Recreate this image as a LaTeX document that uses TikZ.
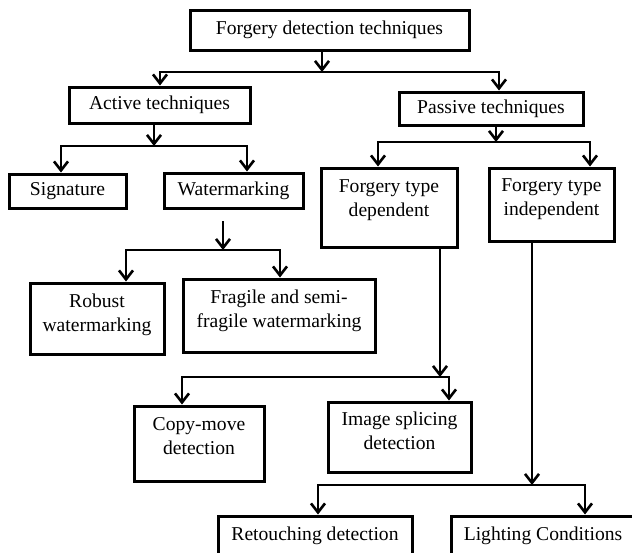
\documentclass[tikz,border=0pt]{standalone}
\usepackage{fontspec}
\setmainfont{Liberation Serif}
\usetikzlibrary{arrows.meta}
\newcommand{\twolines}[3][5pt]{\raisebox{#1}[\height][\depth]{\begin{tabular}{@{}c@{}}#2\\#3\end{tabular}}}
\begin{document}
\begin{tikzpicture}[x=1pt, y=-1pt,
    box/.style={draw, line width=3pt, inner sep=0pt, font=\fontsize{19.6pt}{24pt}\selectfont},
    link/.style={line width=2.6pt},
    arr/.style={link, -{Straight Barb[length=9pt,width=14pt,line width=2.6pt]}}]
  \clip (0,0) rectangle (632,552);
  % boxes
  \node[box, minimum width=279, minimum height=40] (title) at (329.5,30) {Forgery detection techniques};
  \node[box, minimum width=181, minimum height=36] (active) at (159.5,105) {Active techniques};
  \node[box, minimum width=184, minimum height=33] (passive) at (491,108.5) {Passive techniques};
  \node[box, minimum width=117, minimum height=34] (signature) at (67.5,191) {Signature};
  \node[box, minimum width=139, minimum height=35] (watermarking) at (233.5,190.5) {Watermarking};
  \node[box, minimum width=136, minimum height=79] (dependent) at (389,207.5) {\twolines[8pt]{Forgery type}{dependent}};
  \node[box, minimum width=125, minimum height=73] (independent) at (551.5,204.5) {\twolines[6pt]{Forgery type}{independent}};
  \node[box, minimum width=134, minimum height=71] (robust) at (97,318.5) {\twolines[4pt]{Robust}{watermarking}};
  \node[box, minimum width=192, minimum height=73] (fragile) at (279,315.5) {\twolines{Fragile and semi-}{fragile watermarking}};
  \node[box, minimum width=130, minimum height=75] (copymove) at (199,443.5) {\twolines[6pt]{Copy-move}{detection}};
  \node[box, minimum width=143, minimum height=70] (splicing) at (399.5,437) {\twolines[4pt]{Image splicing}{detection}};
  \node[box, minimum width=194, minimum height=40] (retouching) at (315,536) {Retouching detection};
  \node[box, minimum width=196, minimum height=40] (lighting) at (549,536) {\hspace*{-12pt}Lighting Conditions};
  % junctions
  \coordinate (t) at (322,72);  \coordinate (t1) at (160,72);  \coordinate (t2) at (499,72);
  \coordinate (a) at (154,146); \coordinate (a1) at (61,146);  \coordinate (a2) at (247,146);
  \coordinate (p) at (496,142); \coordinate (p1) at (378,142); \coordinate (p2) at (590,142);
  \coordinate (w0) at (223,221);
  \coordinate (w) at (223,250); \coordinate (w1) at (126,250); \coordinate (w2) at (280,250);
  \coordinate (d) at (440,377); \coordinate (d1) at (182,377); \coordinate (d2) at (449,377);
  \coordinate (i) at (532,485); \coordinate (i1) at (318,485); \coordinate (i2) at (585,485);
  % arrows
  \draw[arr] (title.south -| t) -- (t);
  \draw[arr] (t2) -- (t1) -- (t1 |- active.north);
  \draw[arr] (t1) -- (t2) -- (t2 |- passive.north);
  \draw[arr] (active.south -| a) -- (a);
  \draw[arr] (a2) -- (a1) -- (a1 |- signature.north);
  \draw[arr] (a1) -- (a2) -- (a2 |- watermarking.north);
  \draw[arr] (passive.south -| p) -- (p);
  \draw[arr] (p2) -- (p1) -- (p1 |- dependent.north);
  \draw[arr] (p1) -- (p2) -- (p2 |- independent.north);
  \draw[arr] (w0) -- (w);
  \draw[arr] (w2) -- (w1) -- (w1 |- robust.north);
  \draw[arr] (w1) -- (w2) -- (w2 |- fragile.north);
  \draw[arr] (dependent.south -| d) -- (d);
  \draw[arr] (d2) -- (d1) -- (d1 |- copymove.north);
  \draw[arr] (d1) -- (d2) -- (d2 |- splicing.north);
  \draw[arr] (independent.south -| i) -- (i);
  \draw[arr] (i2) -- (i1) -- (i1 |- retouching.north);
  \draw[arr] (i1) -- (i2) -- (i2 |- lighting.north);
\end{tikzpicture}
\end{document}
